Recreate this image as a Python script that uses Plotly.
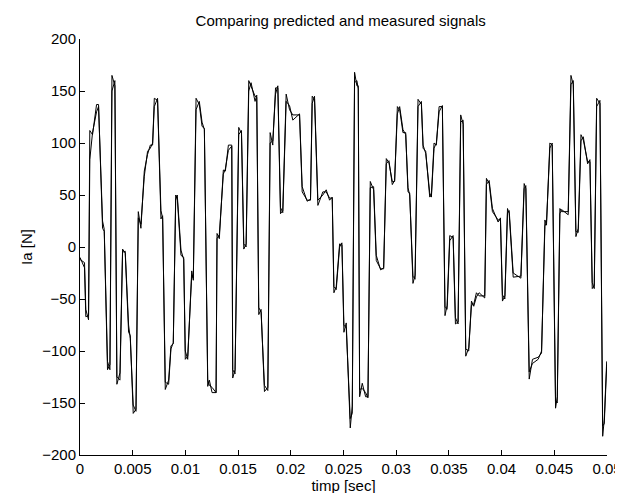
import plotly.graph_objects as go

# time in milliseconds
time_ms = [
    0, 0.43, 0.55, 0.81, 0.93, 1.19, 1.57, 1.76, 2.14, 2.30,
    2.61, 2.84, 3.03, 3.31, 3.50, 3.79, 4.04, 4.29, 4.61, 4.77,
    5.05, 5.31, 5.53, 5.78, 6.10, 6.41, 6.67, 6.89, 7.05, 7.36,
    7.68, 7.84, 8.09, 8.41, 8.63, 8.85, 9.08, 9.23, 9.58, 9.84,
    9.99, 10.22, 10.60, 10.75, 11.01, 11.32, 11.58, 11.80, 12.12, 12.27,
    12.53, 12.91, 13.00, 13.22, 13.60, 13.79, 14.08, 14.40, 14.49, 14.71,
    15.06, 15.32, 15.54, 15.76, 16.01, 16.23, 16.61, 16.77, 16.96, 17.18,
    17.50, 17.82, 18.04, 18.29, 18.55, 18.77, 19.02, 19.24, 19.56, 19.88,
    20.19, 20.83, 21.08, 21.55, 21.87, 22.03, 22.25, 22.57, 23.04, 23.36,
    23.68, 23.93, 24.09, 24.31, 24.63, 24.85, 25.04, 25.26, 25.64, 25.83,
    26.05, 26.27, 26.40, 26.53, 26.78, 27.10, 27.32, 27.54, 27.86, 28.11,
    28.52, 28.81, 29.06, 29.31, 29.63, 29.85, 30.11, 30.33, 30.64, 30.90,
    31.12, 31.28, 31.59, 31.79, 32.07, 32.39, 32.55, 32.80, 33.18, 33.34,
    33.59, 33.81, 34.07, 34.38, 34.63, 34.83, 35.08, 35.40, 35.62, 35.87,
    36.12, 36.35, 36.60, 36.88, 37.14, 37.36, 37.61, 37.87, 38.40, 38.56,
    38.82, 39.13, 39.67, 39.89, 40.08, 40.31, 40.56, 40.72, 41.10, 41.83,
    42.14, 42.30, 42.62, 42.93, 43.47, 43.79, 44.11, 44.26, 44.58, 44.80,
    45.12, 45.28, 45.53, 45.69, 46.32, 46.58, 46.80, 47.05, 47.27, 47.53,
    47.75, 48.16, 48.38, 48.60, 48.79, 49.02, 49.33, 49.59, 49.74, 49.97,
]

measured = [
    -10, -20, -67, -66, 112, 108, 137, 137, 18, 15,
    -118, -113, 165, 155, -132, -121, -2, -6, -82, -85,
    -160, -156, 34, 18, 73, 89, 98, 98, 143, 141,
    27, 30, -137, -128, -95, -93, 50, 47, -8, -10,
    -108, -105, -27, -30, 143, 137, 116, 114, -134, -128,
    -140, -140, 13, 8, 74, 73, 98, 98, -126, -118,
    115, 109, -2, 3, 160, 155, 145, 144, -65, -60,
    -139, -135, 110, 98, 153, 153, 32, 35, 147, 132,
    127, 127, 53, 45, 45, 145, 142, 40, 53, 53,
    47, 47, -44, -38, 3, 2, -82, -73, -174, -153,
    168, 155, 155, -144, -131, -144, -144, 63, 55, -13,
    -21, -21, 85, 81, 63, 63, 135, 132, 110, 110,
    53, 52, -35, -27, 142, 137, 95, 92, 48, 50,
    100, 98, 135, 135, -66, -56, 11, 9, -74, -72,
    127, 118, -105, -97, -56, -55, -44, -47, -47, 66,
    61, 34, 26, 26, -52, -47, 37, 32, -29, -28,
    61, 56, -127, -108, -106, -102, 26, 21, 100, 98,
    -155, -144, 37, 34, 34, 165, 156, 10, 18, 108,
    103, 82, 82, -40, -37, 143, 138, -182, -166, -110,
]

predicted = [
    -12, -15, -60, -70, 84, 110, 130, 135, 25, 17,
    -110, -118, 150, 160, -125, -128, -5, -4, -75, -88,
    -152, -158, 28, 22, 68, 92, 95, 100, 135, 143,
    35, 28, -130, -132, -98, -92, 45, 50, -3, -12,
    -100, -108, -23, -32, 132, 140, 120, 113, -128, -133,
    -135, -140, 8, 12, 70, 75, 93, 97, -118, -122,
    108, 112, 3, 0, 150, 158, 140, 146, -58, -63,
    -133, -138, 100, 102, 147, 155, 38, 33, 140, 136,
    122, 128, 58, 44, 46, 138, 145, 45, 50, 55,
    45, 48, -38, -41, 0, 4, -75, -78, -165, -160,
    158, 160, 152, -137, -136, -140, -145, 57, 58, -8,
    -22, -20, 80, 83, 60, 64, 128, 135, 113, 108,
    57, 50, -28, -31, 135, 140, 98, 90, 52, 48,
    95, 100, 130, 136, -58, -60, 6, 11, -68, -74,
    120, 122, -98, -100, -52, -57, -48, -44, -49, 60,
    64, 37, 24, 28, -46, -50, 33, 35, -25, -30,
    56, 59, -120, -112, -108, -100, 20, 24, 95, 100,
    -148, -150, 32, 36, 31, 156, 160, 15, 14, 102,
    106, 80, 84, -34, -40, 135, 141, -172, -170, -115,
]

x_ticks = [0, 0.005, 0.01, 0.015, 0.02, 0.025, 0.03, 0.035, 0.04, 0.045, 0.05]
x_tick_labels = ["0", "0.005", "0.01", "0.015", "0.02", "0.025", "0.03", "0.035", "0.04", "0.045", "0.05"]
y_ticks = [-200, -150, -100, -50, 0, 50, 100, 150, 200]

time_s = [v / 1000.0 for v in time_ms]

FONT = "Liberation Sans, Arial, Helvetica, sans-serif"

fig = go.Figure()
fig.add_trace(go.Scatter(x=time_s, y=measured, mode="lines", name="measured",
                         line=dict(color="black", width=1)))
fig.add_trace(go.Scatter(x=time_s, y=predicted, mode="lines", name="predicted",
                         line=dict(color="black", width=1)))

axis_common = dict(showline=True, linecolor="black", linewidth=1, mirror=False,
                   ticks="inside", ticklen=5, tickcolor="black", showgrid=False,
                   zeroline=False, automargin=False,
                   tickfont=dict(family=FONT, size=15, color="black"))

fig.update_layout(
    width=623, height=493,
    paper_bgcolor="white", plot_bgcolor="white",
    margin=dict(l=72, r=24, t=31, b=46),
    showlegend=False,
    font=dict(family=FONT, size=15, color="black"),
    title=dict(text="Comparing predicted and measured signals", x=0.534, xanchor="center",
               y=0.974, yanchor="middle", font=dict(family=FONT, size=15, color="black")),
    xaxis=dict(range=[0, 0.05], tickvals=x_ticks, ticktext=x_tick_labels,
               title=dict(text="timp [sec]", standoff=3, font=dict(family=FONT, size=15)), **axis_common),
    yaxis=dict(range=[-200, 200], tickvals=y_ticks,
               title=dict(text="Ia [N]", standoff=5, font=dict(family=FONT, size=15)), **axis_common),
)

fig.write_html("out.html")
